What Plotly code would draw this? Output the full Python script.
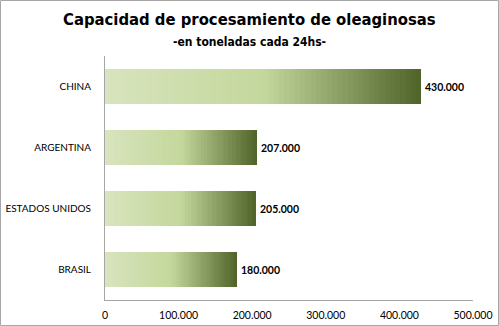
import plotly.graph_objects as go

categories = ["CHINA", "ARGENTINA", "ESTADOS UNIDOS", "BRASIL"]
values = [430000, 207000, 205000, 180000]
tick_vals = [0, 100000, 200000, 300000, 400000, 500000]
title_text = "Capacidad de procesamiento de oleaginosas"
subtitle_text = "-en toneladas cada 24hs-"

W, H = 499, 326
ML, MR, MT, MB = 105, 26, 56, 26
PW, PH = W - ML - MR, H - MT - MB

stops = [(0.0, (216, 228, 190)), (0.5, (196, 215, 156)), (1.0, (79, 98, 40))]

def color_at(t):
    for (t0, c0), (t1, c1) in zip(stops[:-1], stops[1:]):
        if t <= t1:
            f = (t - t0) / (t1 - t0)
            return "rgb(%d,%d,%d)" % tuple(round(a + (b - a) * f) for a, b in zip(c0, c1))
    return "rgb(%d,%d,%d)" % stops[-1][1]

def fmt(v):
    return f"{v:,}".replace(",", ".")

N = 60
fig = go.Figure()
for i in range(N):
    fig.add_trace(go.Bar(
        y=categories, x=[v / N for v in values], orientation="h",
        marker=dict(color=color_at((i + 0.5) / N), line=dict(width=0)),
        hoverinfo="skip", showlegend=False,
    ))

LF = "Lato, Liberation Sans, sans-serif"
annotations = [
    dict(x=v, y=c, xref="x", yref="y", text="<b>%s</b>" % fmt(v), showarrow=False,
         xanchor="left", xshift=2, font=dict(family=LF, size=10.5, color="#000000"))
    for c, v in zip(categories, values)
]
TF = "DejaVu Sans Condensed, Liberation Sans Narrow, sans-serif"
cx = (W / 2 - ML) / PW
annotations.append(dict(
    x=cx, y=(H - MB - 19) / PH, xref="paper", yref="paper", text="<b>%s</b>" % title_text,
    showarrow=False, xanchor="center", yanchor="middle",
    font=dict(family=TF, size=16.5, color="#000000")))
annotations.append(dict(
    x=cx, y=(H - MB - 42) / PH, xref="paper", yref="paper", text="<b>%s</b>" % subtitle_text,
    showarrow=False, xanchor="center", yanchor="middle",
    font=dict(family=TF, size=12, color="#000000")))

fig.update_layout(
    width=W, height=H, barmode="stack", bargap=0.44,
    margin=dict(l=ML, r=MR, t=MT, b=MB, autoexpand=False),
    paper_bgcolor="white", plot_bgcolor="white",
    separators=",.",
    annotations=annotations,
    xaxis=dict(
        range=[0, 500000], tickvals=tick_vals, tickformat=",d", automargin=False,
        showgrid=False, zeroline=False, showline=True, linecolor="#a6a6a6", linewidth=1,
        ticks="", ticklabelstandoff=5,
        tickfont=dict(family=LF, size=10.5, color="#000000"),
    ),
    yaxis=dict(
        categoryorder="array", categoryarray=categories[::-1], automargin=False,
        showgrid=False, zeroline=False, showline=True, linecolor="#a6a6a6", linewidth=1,
        ticks="", ticklabelstandoff=11,
        tickfont=dict(family=LF, size=10, color="#000000"),
    ),
    shapes=[dict(
        type="rect", xref="paper", yref="paper",
        x0=-(ML - 0.5) / PW, x1=(W - ML - 0.5) / PW,
        y0=-(MB - 0.5) / PH, y1=(H - MB - 0.5) / PH,
        line=dict(color="#a6a6a6", width=1), fillcolor="rgba(0,0,0,0)", layer="above",
    )],
)

fig.write_html("out.html")
